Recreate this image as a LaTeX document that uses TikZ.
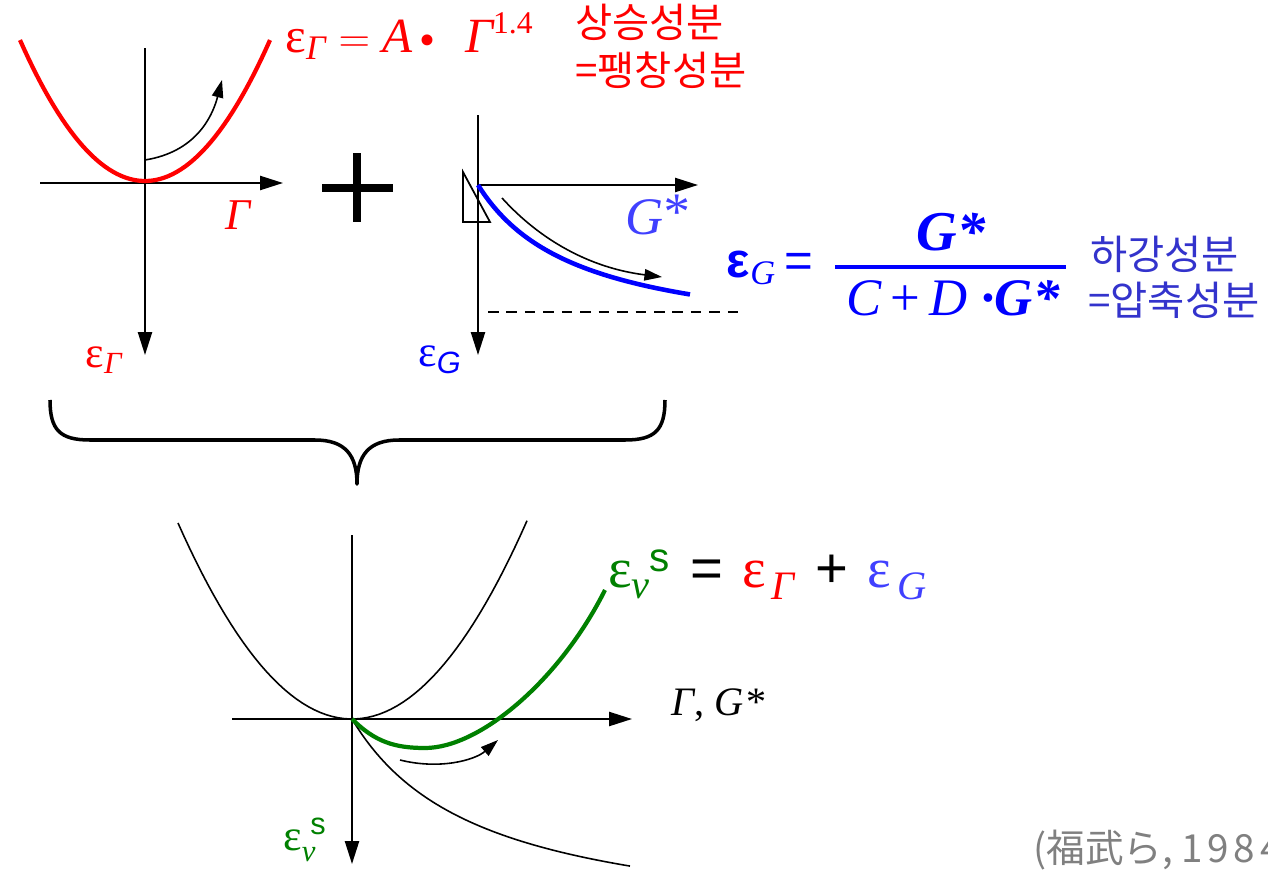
\documentclass[tikz,border=0pt]{standalone}
\usepackage{amsmath}
\usepackage{fontspec}
\setmainfont{Liberation Serif}
\setsansfont{Liberation Sans}
\newfontfamily\kofont{Noto Sans CJK KR}
\newfontfamily\jpfont{Noto Sans CJK JP}
\definecolor{gred}{RGB}{255,0,0}
\definecolor{gblue}{RGB}{0,0,255}
\definecolor{lblue}{RGB}{64,64,255}
\definecolor{kblue}{RGB}{51,51,204}
\definecolor{vgreen}{RGB}{0,128,0}
\definecolor{cgray}{RGB}{128,128,128}
\usetikzlibrary{arrows.meta,positioning}
\newcommand\Gm{\text{\itshape Γ}}
\newcommand\ep{\text{ε}}
\newcommand\sml[1]{\text{\fontsize{23}{23}\selectfont #1}}
\newcommand\mdot{\mathord{\raisebox{-2pt}{\fontsize{26}{26}\selectfont\textbullet}}}

\begin{document}
\begin{tikzpicture}[x=0.02cm, y=-0.02cm,
    axis/.style={line width=1.1pt, -{Triangle[length=13pt, width=8pt]}},
    arr/.style={line width=0.9pt, -{Triangle[length=10pt, width=6.5pt]}},
    lbl/.style={inner sep=0pt, font=\fontsize{25}{28}\selectfont},
    kor/.style={inner sep=0pt, anchor=west, font=\kofont\fontsize{23}{26}\selectfont}
  ]
    \useasboundingbox (0,0) rectangle (1268,872);
    \clip (0,0) rectangle (1268,872);

    % swelling part (top left)
    \coordinate (gl) at (40,183);
    \coordinate (gr) at (283,183);
    \coordinate (gt) at (145,48);
    \coordinate (gb) at (145,355);
    \draw[axis] (gl) -- (gr);
    \draw[axis] (gt) -- (gb);
    \draw[gred, line width=2.4pt, domain=20:270, samples=60]
      plot (\x, {181-90.2*((\x-145)/100)^2});
    \coordinate (ga) at (145,160);
    \coordinate (gz) at (222,80);
    \draw[arr] (ga) .. controls (195,152) and (212,118) .. (gz);
    \node[lbl, text=gred] (gamx) at (238,215) {\itshape Γ};
    \node[lbl, text=gred] (epsgam) at (104,360) {$\ep_{\Gm}$};
    \node[lbl, text=gred, anchor=base west, font=\fontsize{28}{30}\selectfont]
      (eqgam) at (285,52) {$\ep_{\Gm} = \text{\itshape A}\hspace{4pt}\mdot\hspace{17pt}\Gm^{\text{\fontsize{18}{18}\selectfont 1.4}}$};
    \node[kor, text=gred] (kup) at (575,22) {상승성분};
    \node[kor, text=gred] (kexp) at (575,70) {=팽창성분};

    % plus sign
    \draw[line width=5pt] (322,188) -- (393,188);
    \draw[line width=5pt] (357,153) -- (357,222);

    % compression part (top middle)
    \coordinate (cl) at (478,185);
    \coordinate (cr) at (698,185);
    \coordinate (ct) at (478,115);
    \coordinate (cb) at (478,355);
    \draw[axis] (cl) -- (cr);
    \draw[axis] (ct) -- (cb);
    \draw[line width=1pt] (463,172) -- (463,222) -- (490,222) -- cycle;
    \draw[gblue, line width=2.6pt, domain=0:212, samples=60]
      plot ({478+\x}, {185+1.6*\x/(1+0.0099*\x)});
    \coordinate (ca) at (502,198);
    \coordinate (cz) at (662,277);
    \draw[arr] (ca) .. controls (540,240) and (590,268) .. (cz);
    \coordinate (dl) at (488,312);
    \coordinate (dr) at (740,312);
    \draw[line width=1pt, dash pattern=on 6pt off 4.5pt] (dl) -- (dr);
    \node[lbl, text=lblue, font=\fontsize{30}{32}\selectfont] (gstar) at (657,215) {\itshape G\kern-1pt\raisebox{3pt}{*}};
    \node[lbl, text=gblue] (epsg) at (440,360) {$\ep_{\text{\sffamily\itshape G}}$};

    % compression formula
    \node[lbl, text=gblue, font=\fontsize{28}{30}\selectfont] (eqg) at (770,268)
      {$\text{\sffamily\bfseries ε}_{\text{\itshape G}}$\,\textsf{=}};
    \node[lbl, text=gblue, font=\fontsize{32}{34}\selectfont\bfseries\itshape] (num) at (951,232) {G*};
    \node[lbl, text=gblue, font=\fontsize{30}{32}\selectfont] (den) at (953,298)
      {\itshape C\,\upshape+\,\itshape D\;\bfseries·G*};
    \coordinate (fl) at (835,267);
    \coordinate (fr) at (1066,267);
    \draw[gblue, line width=2.2pt] (fl) -- (fr);
    \node[kor, text=kblue] (kdown) at (1090,254) {하강성분};
    \node[kor, text=kblue] (kcmp) at (1088,300) {=압축성분};

    % brace
    \draw[line width=2pt, line join=round]
      (50,400) .. controls (50,430) and (60,440) .. (90,440) -- (315,440)
      .. controls (345,440) and (357,455) .. (357,484)
      .. controls (357,455) and (369,440) .. (399,440) -- (625,440)
      .. controls (655,440) and (665,430) .. (665,400);

    % total (bottom)
    \coordinate (vl) at (232,719);
    \coordinate (vr) at (632,719);
    \coordinate (vt) at (352,535);
    \coordinate (vb) at (352,864);
    \draw[axis] (vl) -- (vr);
    \draw[axis] (vt) -- (vb);
    \draw[line width=0.9pt, domain=178:527, samples=60]
      plot (\x, {719-64.74*((\x-352)/100)^2});
    \draw[line width=0.9pt, domain=0:278, samples=60]
      plot ({352+\x}, {719+1.669*\x/(1+0.007755*\x)});
    \draw[vgreen, line width=2.4pt]
      (352,719) .. controls (375,742) and (395,748) .. (425,748)
      .. controls (480,748) and (560,680) .. (605,590);
    \coordinate (va) at (400,760);
    \coordinate (vz) at (498,740);
    \draw[arr] (va) .. controls (440,770) and (475,760) .. (vz);
    \node[lbl, font=\fontsize{23}{26}\selectfont] (axlbl) at (718,705) {\itshape Γ\upshape, \itshape G*};
    \node[lbl, anchor=west, font=\fontsize{32}{34}\selectfont] (eqsum) at (608,575)
      {$\color{vgreen}\ep_{\sml{\itshape v}}^{\hspace{10pt}\sml{\sffamily s}}
       \color{black}\;\,\text{\sffamily =}\;\,
       \color{gred}\ep_{\,\sml{\itshape Γ}}
       \color{black}\;\,\text{\sffamily +}\;\,
       \color{lblue}\ep_{\,\sml{\itshape G}}$};
    \node[lbl, text=vgreen] (epsv) at (305,840) {$\ep_{\text{\itshape v}}^{\;\text{\sffamily s}}$};

    % source
    \node[inner sep=0pt, anchor=west, text=cgray, font=\jpfont\fontsize{22}{26}\selectfont]
      (src) at (1033,850) {(福武ら,\ {\addfontfeature{LetterSpace=12}1984)}};
\end{tikzpicture}
\end{document}
